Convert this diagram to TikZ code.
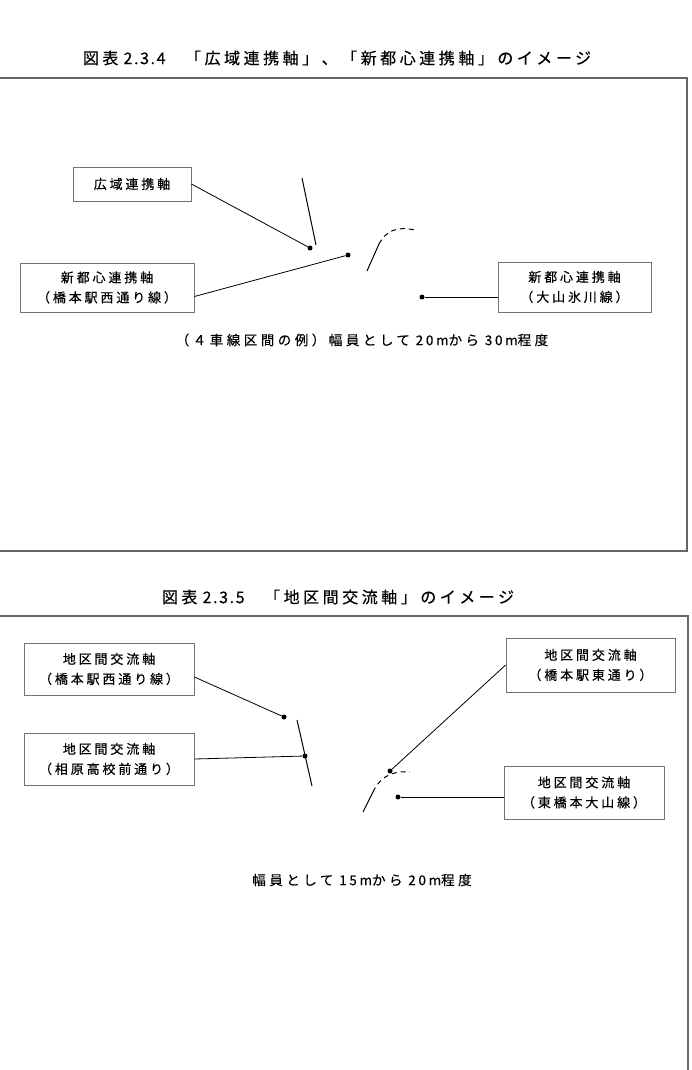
\documentclass[tikz,border=0pt]{standalone}
\usepackage{fontspec}
\setmainfont{Noto Sans CJK JP}
\newfontfamily\jpls[LetterSpace=22,FakeBold=0.35]{Noto Sans CJK JP}
\newfontfamily\jpbd[LetterSpace=26,FakeBold=0.35]{Noto Sans CJK JP}
\newfontfamily\jplat[LetterSpace=10,FakeBold=0.35]{Noto Sans CJK JP}
\newfontfamily\jplatb[LetterSpace=20,FakeBold=0.35]{Noto Sans CJK JP}
\newcommand\lat[1]{{\jplat #1}}
\newcommand\latb[1]{{\jplatb #1}}
\newcommand\bxfont{\jpls\fontsize{13}{20}\selectfont}
\newcommand\ttlfont{\jpls\fontsize{16}{18}\selectfont}
\newcommand\bdfont{\jpbd\fontsize{13.5}{16}\selectfont}
\begin{document}
\begin{tikzpicture}[x=1pt,y=1pt,
  frame/.style={draw=black!60, line width=1.4pt},
  lbox/.style={draw=black!55, line width=0.8pt, inner sep=0pt, align=center, font=\bxfont},
  conn/.style={line width=0.8pt},
  dot/.style={circle, fill=black, inner sep=0pt, minimum size=5pt},
  road/.style={line width=1pt},
  roaddash/.style={line width=1pt, dash pattern=on 5pt off 4pt},
  ttl/.style={font=\ttlfont, inner sep=0pt},
  body/.style={font=\bdfont, inner sep=0pt}]
\useasboundingbox (0,0) rectangle (691,-1070);
\fill[white] (0,0) rectangle (691,-1070);

% ---------- figure 2.3.4 ----------
\node[ttl] (t1) at (337,-58) {図表\lat{ 2.3.4}　「広域連携軸」、「新都心連携軸」のイメージ};
\draw[frame] (-5,-78) rectangle (687,-551);

\node[lbox, minimum width=118pt, minimum height=34pt] (A) at (132,-184) {広域連携軸};
\node[lbox, minimum width=174pt, minimum height=49pt] (B) at (107,-287.5) {新都心連携軸\\（橋本駅西通り線）};
\node[lbox, minimum width=153pt, minimum height=50pt] (C) at (574.5,-287) {新都心連携軸\\（大山氷川線）};

\node[dot] (a1) at (310,-248) {};
\node[dot] (b1) at (348,-255) {};
\node[dot] (c1) at (422,-297) {};

\draw[conn] (A.east) -- (a1);
\draw[conn] ([yshift=-9pt]B.east) -- (b1);
\draw[conn] ([yshift=-10pt]C.west) -- (c1);

\draw[road] (302,-178) -- (316,-245);
\draw[road] (367,-271) -- (379,-244);
\draw[roaddash] (379,-244) .. controls (386,-231) and (396,-226) .. (415,-230);

\node[body] (n1) at (362,-340) {（４車線区間の例）幅員として\latb{ 20m}から\latb{ 30m}程度};

% ---------- figure 2.3.5 ----------
\node[ttl] (t2) at (338,-597) {図表\lat{ 2.3.5}　「地区間交流軸」のイメージ};
\draw[frame] (-5,-616) rectangle (688,-1080);

\node[lbox, minimum width=170pt, minimum height=52pt] (D) at (109,-669) {地区間交流軸\\（橋本駅西通り線）};
\node[lbox, minimum width=170pt, minimum height=52pt] (E) at (109,-759) {地区間交流軸\\（相原高校前通り）};
\node[lbox, minimum width=169pt, minimum height=54pt] (F) at (590.5,-665) {地区間交流軸\\（橋本駅東通り）};
\node[lbox, minimum width=160pt, minimum height=53pt] (G) at (584,-792.5) {地区間交流軸\\（東橋本大山線）};

\node[dot] (d1) at (284,-717) {};
\node[dot] (e1) at (305,-756) {};
\node[dot] (f1) at (390,-771) {};
\node[dot] (g1) at (398,-797) {};

\draw[conn] ([yshift=-8pt]D.east) -- (d1);
\draw[conn] (E.east) -- (e1);
\draw[conn] (F.west) -- (f1);
\draw[conn] ([yshift=-4.5pt]G.west) -- (g1);

\draw[road] (297,-720) -- (312,-786);
\draw[road] (363,-812) -- (373,-792);
\draw[roaddash] (373,-792) .. controls (378,-781) and (388,-770) .. (410,-772);

\node[body] (n2) at (362,-880) {幅員として\latb{ 15m}から\latb{ 20m}程度};
\end{tikzpicture}
\end{document}
